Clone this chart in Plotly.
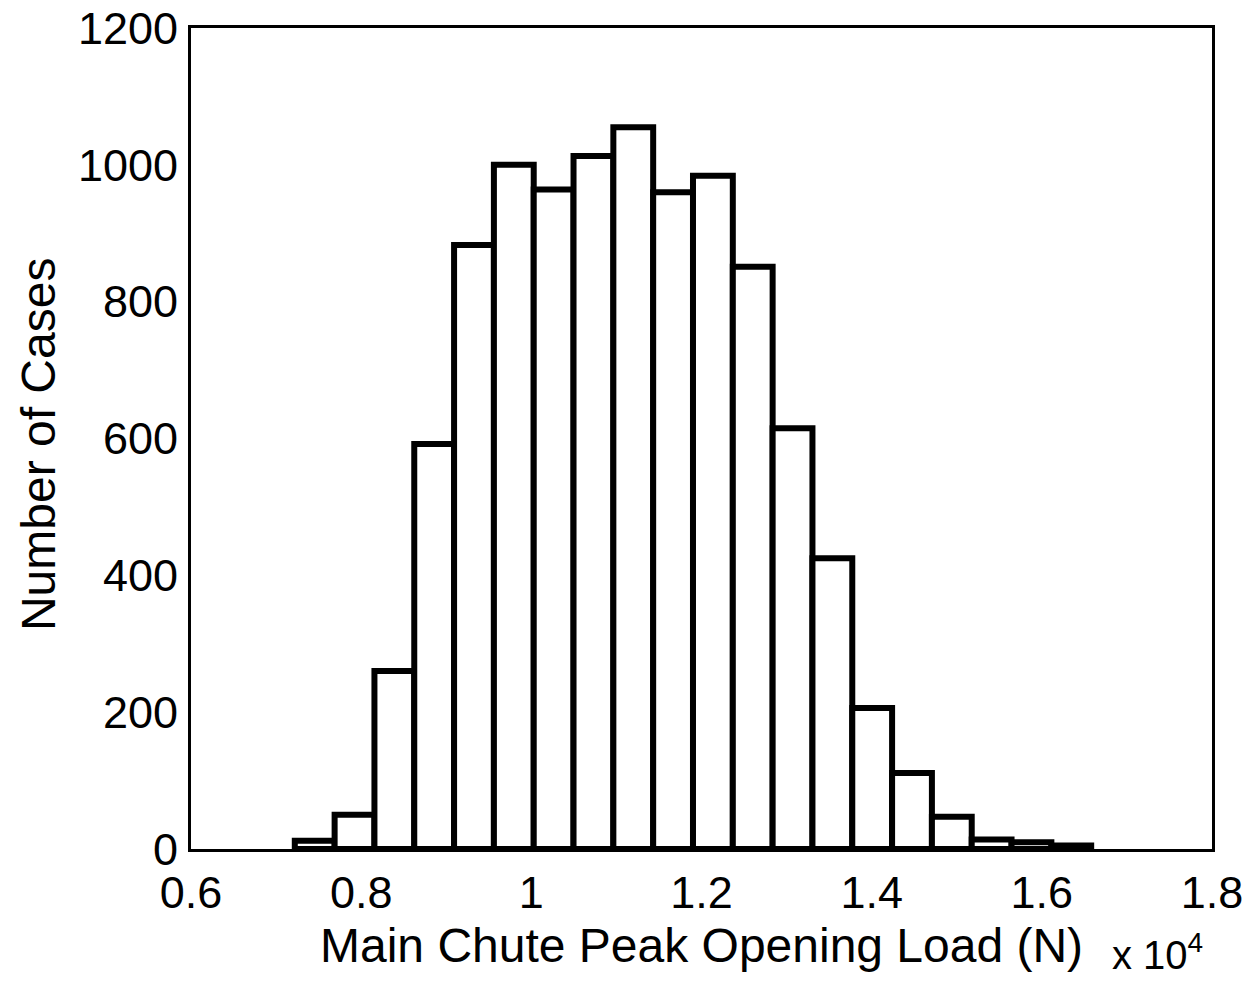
import plotly.graph_objects as go

# bin centres (x 10^4 N) and counts
centers = [0.7454, 0.7922, 0.8390, 0.8858, 0.9326, 0.9794, 1.0262, 1.0730, 1.1198, 1.1666,
           1.2134, 1.2602, 1.3070, 1.3538, 1.4006, 1.4474, 1.4942, 1.5410, 1.5878, 1.6346]
counts = [12, 50, 260, 592, 883, 1000, 964, 1013, 1055, 960,
          984, 851, 615, 425, 206, 111, 47, 14, 10, 5]
bin_w = 0.0468

x_ticks = [0.6, 0.8, 1.0, 1.2, 1.4, 1.6, 1.8]
x_labels = ['0.6', '0.8', '1', '1.2', '1.4', '1.6', '1.8']
y_ticks = [0, 200, 400, 600, 800, 1000, 1200]

FONT = 'Liberation Sans, Arial, Helvetica, sans-serif'

fig = go.Figure()
fig.add_trace(go.Bar(x=centers, y=counts, width=bin_w,
    marker=dict(color='white', line=dict(color='black', width=6)),
    hovertemplate='%{x:.3f}e4 N<br>%{y} cases<extra></extra>'))

# page body has an 8px margin, so the figure is a bit smaller than the window
fig.update_layout(width=1237, height=965, plot_bgcolor='white', paper_bgcolor='white',
    margin=dict(l=183, r=33, t=20, b=124), showlegend=False,
    font=dict(family=FONT, color='black', size=45))
fig.update_xaxes(range=[0.6, 1.8], tickvals=x_ticks, ticktext=x_labels, automargin=False,
    showline=True, linecolor='black', linewidth=3, mirror=True, showgrid=False, zeroline=False,
    ticks='', ticklabelstandoff=2, ticklabeloverflow='allow', tickfont=dict(size=45))
fig.update_yaxes(range=[0, 1200], tickvals=y_ticks, automargin=False,
    showline=True, linecolor='black', linewidth=3, mirror=True, showgrid=False, zeroline=False,
    ticks='', ticklabelstandoff=1, ticklabeloverflow='allow', tickfont=dict(size=45))

fig.add_annotation(text='Main Chute Peak Opening Load (N)', xref='paper', yref='paper',
    x=0.5, y=-0.118, xanchor='center', yanchor='middle', showarrow=False, font=dict(size=48))
fig.add_annotation(text='Number of Cases', xref='paper', yref='paper', textangle=-90,
    x=-0.15, y=0.493, xanchor='center', yanchor='middle', showarrow=False, font=dict(size=48))
fig.add_annotation(text='x 10<sup>4</sup>', xref='paper', yref='paper', x=0.9, y=-0.126,
    xanchor='left', yanchor='middle', showarrow=False, font=dict(size=40))

fig.write_html('out.html')
